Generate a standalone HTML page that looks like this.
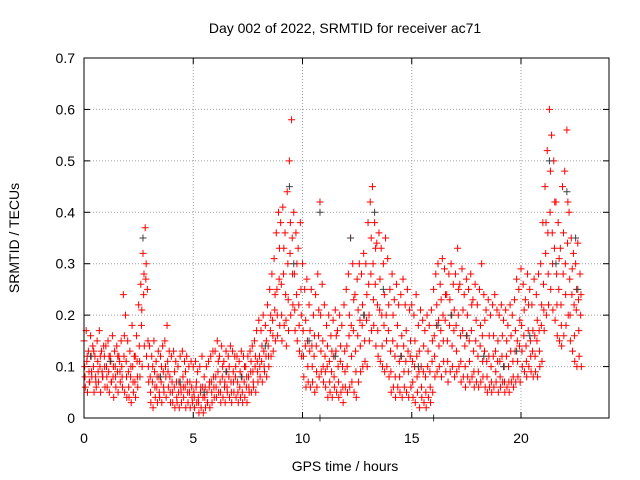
<!DOCTYPE html>
<html><head><meta charset="utf-8"><style>
body{margin:0;background:#fff}
svg{display:block;font-family:"Liberation Sans",sans-serif;font-size:14px}
</style></head><body>
<svg id="chart" width="640" height="480">
<text x="345" y="33" text-anchor="middle">Day 002 of 2022, SRMTID for receiver ac71</text>
<text x="345" y="471" text-anchor="middle">GPS time / hours</text>
<text transform="translate(19,238) rotate(-90)" text-anchor="middle">SRMTID / TECUs</text>
<g id="grid"></g>
<g id="ticks"></g>
<g id="redpts"></g>
<g id="graypts"></g>
<rect x="84" y="58" width="525" height="360" fill="none" stroke="#000" stroke-width="1"/>
</svg>
<script>
const xTicks=[0,5,10,15,20];
const yTicks=[0,0.1,0.2,0.3,0.4,0.5,0.6,0.7];
const yTickLabels=["0","0.1","0.2","0.3","0.4","0.5","0.6","0.7"];
const redHi=[.15,.17,.13,.16,.14,.12,.15,.17,.13,.14,.14,.15,.12,.16,.13,.14,.12,.15,.24,.20,.15,.13,.18,.12,.16,.22,.26,.32,.37,.25,.14,.12,.15,.11,.13,.12,.14,.15,.18,.13,.12,.13,.11,.10,.12,.13,.11,.12,.10,.11,.10,.11,.09,.10,.12,.08,.10,.11,.12,.13,.13,.15,.12,.14,.11,.13,.12,.14,.13,.12,.12,.11,.13,.12,.10,.12,.13,.14,.15,.17,.19,.17,.20,.18,.22,.25,.28,.31,.36,.40,.38,.41,.36,.44,.50,.58,.40,.36,.33,.38,.30,.25,.27,.22,.25,.20,.24,.28,.42,.26,.22,.18,.20,.16,.19,.21,.17,.20,.18,.22,.25,.28,.35,.30,.24,.27,.30,.28,.32,.30,.38,.42,.45,.38,.34,.36,.33,.30,.35,.31,.25,.28,.23,.26,.22,.24,.27,.22,.25,.21,.22,.20,.24,.18,.21,.19,.17,.20,.18,.21,.25,.28,.30,.26,.31,.29,.24,.28,.30,.26,.28,.33,.26,.29,.24,.27,.25,.28,.23,.26,.22,.25,.30,.24,.21,.23,.20,.22,.24,.21,.20,.22,.19,.21,.18,.22,.20,.23,.27,.25,.29,.26,.23,.28,.25,.22,.27,.24,.28,.30,.38,.45,.52,.60,.55,.50,.42,.38,.33,.45,.48,.56,.40,.35,.32,.30,.34,.28];
const redMid=[.10,.11,.09,.12,.10,.08,.11,.10,.09,.12,.10,.09,.11,.08,.10,.09,.11,.10,.12,.11,.09,.08,.10,.07,.11,.14,.18,.24,.27,.15,.08,.07,.09,.06,.08,.07,.09,.10,.11,.08,.07,.06,.07,.05,.06,.08,.06,.07,.05,.06,.05,.06,.04,.05,.06,.04,.05,.06,.07,.08,.08,.09,.07,.08,.06,.09,.08,.07,.09,.08,.07,.06,.08,.07,.06,.08,.09,.09,.10,.11,.12,.11,.13,.12,.14,.17,.19,.21,.25,.27,.26,.28,.24,.30,.32,.35,.28,.24,.22,.25,.17,.14,.15,.13,.14,.12,.14,.16,.20,.15,.12,.10,.11,.09,.12,.13,.10,.11,.10,.13,.14,.16,.18,.17,.13,.16,.19,.18,.20,.19,.26,.28,.30,.26,.22,.21,.20,.18,.20,.17,.13,.15,.12,.14,.11,.12,.14,.11,.13,.12,.11,.10,.12,.09,.10,.09,.08,.10,.09,.11,.16,.18,.19,.17,.20,.19,.15,.18,.20,.17,.18,.20,.16,.17,.14,.16,.15,.17,.13,.15,.12,.14,.16,.13,.11,.12,.10,.12,.13,.11,.11,.12,.10,.12,.10,.13,.11,.13,.15,.14,.18,.16,.14,.17,.15,.13,.16,.15,.17,.18,.26,.32,.36,.40,.36,.33,.28,.25,.22,.28,.30,.34,.27,.24,.22,.21,.23,.20];
const redLo=[.06,.05,.07,.08,.05,.06,.07,.05,.08,.06,.06,.05,.07,.04,.06,.05,.07,.06,.05,.04,.04,.03,.05,.04,.06,.08,.10,.14,.12,.07,.03,.02,.04,.03,.04,.03,.05,.04,.06,.03,.03,.02,.03,.02,.03,.04,.02,.03,.02,.03,.02,.03,.01,.02,.01,.02,.03,.02,.03,.04,.04,.05,.03,.04,.03,.05,.04,.03,.05,.04,.03,.04,.03,.04,.03,.05,.05,.06,.05,.07,.08,.07,.09,.08,.10,.12,.13,.15,.16,.18,.15,.18,.14,.17,.20,.22,.17,.15,.13,.12,.08,.06,.07,.06,.07,.05,.06,.08,.09,.07,.06,.04,.05,.04,.06,.05,.04,.05,.03,.06,.05,.06,.07,.05,.04,.07,.09,.10,.11,.10,.15,.17,.18,.14,.12,.11,.10,.09,.10,.08,.05,.06,.04,.06,.05,.04,.06,.05,.04,.06,.04,.03,.05,.02,.04,.03,.02,.04,.03,.05,.08,.09,.10,.08,.11,.09,.07,.09,.10,.08,.09,.10,.07,.08,.06,.08,.07,.08,.06,.07,.06,.07,.08,.06,.05,.06,.05,.06,.07,.05,.06,.07,.05,.06,.05,.07,.06,.07,.08,.07,.10,.09,.08,.10,.09,.08,.09,.08,.10,.11,.17,.20,.22,.25,.21,.19,.16,.15,.14,.16,.18,.20,.15,.13,.11,.10,.12,.10];
const redQ=[.08,.12,.07,.09,.13,.07,.09,.12,.08,.10,.08,.12,.07,.10,.08,.12,.09,.08,.16,.08,.06,.10,.07,.12,.08,.11,.21,.28,.30,.10,.05,.10,.06,.08,.05,.10,.06,.08,.09,.05,.05,.09,.04,.07,.05,.06,.09,.05,.07,.04,.04,.07,.03,.06,.04,.06,.03,.07,.05,.06,.06,.11,.05,.10,.07,.06,.10,.05,.07,.10,.05,.09,.05,.10,.08,.06,.11,.07,.12,.09,.10,.14,.10,.15,.12,.20,.16,.24,.20,.33,.20,.33,.19,.23,.38,.28,.21,.30,.18,.20,.12,.19,.10,.17,.10,.16,.09,.21,.13,.10,.09,.14,.07,.13,.08,.16,.07,.14,.06,.09,.10,.20,.12,.23,.09,.21,.14,.22,.15,.24,.20,.35,.23,.33,.17,.27,.14,.24,.15,.22,.09,.20,.08,.18,.08,.16,.09,.17,.09,.15,.07,.15,.08,.13,.06,.14,.05,.13,.06,.15,.12,.22,.14,.23,.15,.24,.11,.23,.14,.21,.13,.25,.11,.21,.10,.20,.11,.22,.09,.19,.09,.18,.11,.19,.08,.16,.07,.16,.09,.15,.08,.16,.07,.15,.07,.16,.08,.17,.11,.19,.13,.21,.11,.22,.12,.17,.12,.19,.13,.22,.21,.38,.28,.48,.30,.42,.22,.31,.18,.36,.24,.42,.20,.29,.16,.25,.17,.24];
const grayT=[0.3,1.2,2.7,3.5,4.4,5.5,6.5,7.2,8.3,9.4,9.6,10.3,10.8,11.5,12.2,12.8,13.3,13.7,14.5,15.3,16.2,16.8,17.5,18.3,19.2,19.8,20.4,21.3,21.6,22.1,22.5,22.6,10.8,16.0];
const grayY=[.12,.11,.35,.08,.07,.05,.09,.08,.14,.45,.30,.15,.40,.12,.35,.20,.40,.25,.12,.10,.18,.20,.16,.12,.10,.13,.16,.50,.30,.44,.35,.25,.0,.0];
const X0=84,X1=608.4,Y0=418,Y1=58;
const xs=t=>X0+t/24*(X1-X0);
const ys=v=>Y0-v/0.7*(Y0-Y1);
const NS="http://www.w3.org/2000/svg";
function mk(tag,attrs,parent){const e=document.createElementNS(NS,tag);for(const k in attrs)e.setAttribute(k,attrs[k]);parent.appendChild(e);return e;}
const grid=document.getElementById('grid'),ticks=document.getElementById('ticks');
xTicks.forEach(t=>{
  const x=xs(t);
  if(t>0){const g=mk('line',{x1:x,x2:x,y1:Y1,y2:Y0,stroke:'#a0a0a0','stroke-dasharray':'1,2'},grid);
  
  }
  const tx=mk('text',{x:x,y:Y0+25,'text-anchor':'middle'},ticks);tx.textContent=t;
  
  
  mk('line',{x1:x,x2:x,y1:Y0,y2:Y0-6,stroke:'#000'},ticks);
  mk('line',{x1:x,x2:x,y1:Y1,y2:Y1+6,stroke:'#000'},ticks);
});
yTicks.forEach((v,i)=>{
  const y=ys(v);
  if(i>0&&i<yTicks.length-1){const g=mk('line',{x1:X0,x2:609,y1:y,y2:y,stroke:'#a0a0a0','stroke-dasharray':'1,2'},grid);
  
  }
  const tx=mk('text',{x:X0-9,y:y+5,'text-anchor':'end'},ticks);tx.textContent=yTickLabels[i];
  
  
  mk('line',{x1:X0,x2:X0+6,y1:y,y2:y,stroke:'#000'},ticks);
  mk('line',{x1:609,x2:603,y1:y,y2:y,stroke:'#000'},ticks);
});
function cross(x,y){return `M${x-3.5},${y}h7M${x},${y-3.5}v7`;}
let d='';
const seriesList=[redHi,redMid,redLo,redQ];
const seriesShift=[0,0.03,0.06,0.045];
seriesList.forEach((arr,k)=>arr.forEach((v,i)=>{d+=cross(xs(i*0.1+seriesShift[k]),ys(v));}));
const rp=mk('path',{d:d,stroke:'#ff0000','stroke-width':1,fill:'none'},document.getElementById('redpts'));


let g='';
grayT.forEach((t,i)=>{g+=cross(xs(t),ys(grayY[i]));});
const gp=mk('path',{d:g,stroke:'#404040','stroke-width':1,fill:'none'},document.getElementById('graypts'));


</script>
</body></html>
